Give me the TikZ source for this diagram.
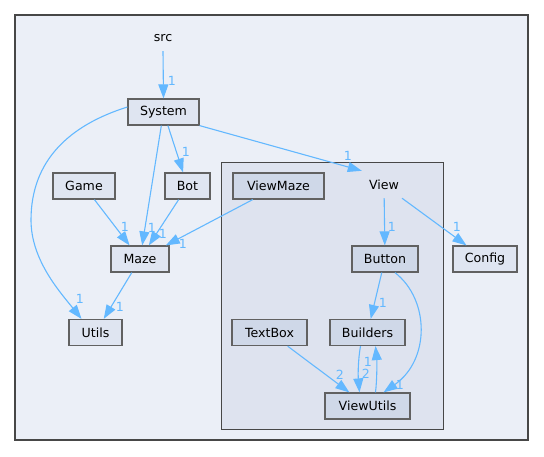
\documentclass[tikz,border=0pt]{standalone}
\usepackage{fontspec}
\setmainfont{DejaVu Sans}
\usetikzlibrary{arrows.meta,calc}
\definecolor{dirOuter}{HTML}{EBEFF7}
\definecolor{dirInner}{HTML}{DEE3EF}
\definecolor{dirNode}{HTML}{DFE5F1}
\definecolor{dirSubNode}{HTML}{CFD8E8}
\definecolor{dirEdge}{HTML}{63B8FF}
\colorlet{dirLine}{black!62}
\colorlet{dirFrame}{black!72}
\tikzset{
  dirbox/.style={
    rectangle, draw=dirLine, fill=dirNode, line width=1.2pt,
    minimum height=26pt, inner sep=0pt,
    font=\fontsize{12.6}{15}\selectfont
  },
  dirsub/.style={dirbox, fill=dirSubNode},
  dirname/.style={
    rectangle, inner sep=0pt, minimum height=26pt, minimum width=40pt,
    font=\fontsize{12.6}{15}\selectfont
  },
  dirarrow/.style={-{Triangle[length=14pt,width=10pt]}, line width=1.1pt, color=dirEdge},
  dirnum/.style={font=\fontsize{12.6}{15}\selectfont, text=dirEdge, inner sep=0pt}
}
\begin{document}
\begin{tikzpicture}[x=1pt,y=-1pt]
  \useasboundingbox (0,0) rectangle (544,456);
  % clusters
  \draw[fill=dirOuter, draw=dirFrame, line width=2.8pt] (15,15) rectangle (528,440);
  \draw[fill=dirInner, draw=dirFrame, line width=1pt] (221,162) rectangle (443,429);

  \node[dirname] (src) at (163,38) {src};
  \node[dirbox, minimum width=71pt] (System) at (163.5,112) {System};
  \node[dirbox, minimum width=62pt] (Game) at (84,186) {Game};
  \node[dirbox, minimum width=45pt] (Bot) at (187.5,186) {Bot};
  \node[dirsub, minimum width=91pt] (ViewMaze) at (278.5,186) {ViewMaze};
  \node[dirname] (View) at (384,185) {View};
  \node[dirbox, minimum width=58pt] (Maze) at (140,259) {Maze};
  \node[dirbox, minimum width=53pt] (Utils) at (95.5,332.5) {Utils};
  \node[dirsub, minimum width=75pt] (TextBox) at (269.5,332.5) {TextBox};
  \node[dirsub, minimum width=66pt] (Button) at (385,259) {Button};
  \node[dirbox, minimum width=64pt] (Config) at (485,259) {Config};
  \node[dirsub, minimum width=75pt] (Builders) at (367.5,332.5) {Builders};
  \node[dirsub, minimum width=85pt] (ViewUtils) at (367.5,406) {ViewUtils};

  \draw[dirarrow] (src.south) -- (System.north);
  \draw[dirarrow] (System) -- (Bot);
  \draw[dirarrow] (System) -- (Maze);
  \draw[dirarrow] ([yshift=5pt]System.west) .. controls (70,125) and (31,160) .. (31,220)
    .. controls (31,260) and (60,292) .. ([xshift=-14pt]Utils.north);
  \draw[dirarrow] (System.south east) -- ([xshift=-2pt,yshift=1pt]View.north west);
  \draw[dirarrow] (Game) -- (Maze);
  \draw[dirarrow] (Bot) -- (Maze);
  \draw[dirarrow] (ViewMaze) -- (Maze);
  \draw[dirarrow] (Maze) -- (Utils);
  \draw[dirarrow] (View) -- (Button);
  \draw[dirarrow] (View) -- (Config);
  \draw[dirarrow] (Button) -- (Builders);
  \draw[dirarrow] ([xshift=10pt]Button.south) .. controls (430,300) and (430,360)
    .. ([xshift=16pt]ViewUtils.north);
  \draw[dirarrow] (TextBox) -- (ViewUtils);
  \draw[dirarrow] ([xshift=-7pt]Builders.south) .. controls (358,360) and (358,375)
    .. ([xshift=-8pt]ViewUtils.north);
  \draw[dirarrow] ([xshift=8pt]ViewUtils.north) .. controls (377,380) and (377,362)
    .. ([xshift=8pt]Builders.south);

  \node[dirnum] (n1) at (172,81) {1};
  \node[dirnum] (n2) at (186,152) {1};
  \node[dirnum] (n3) at (152,228) {1};
  \node[dirnum] (n4) at (125,227) {1};
  \node[dirnum] (n5) at (163,234) {1};
  \node[dirnum] (n6) at (183,244) {1};
  \node[dirnum] (n7) at (80,299) {1};
  \node[dirnum] (n8) at (120,307) {1};
  \node[dirnum] (n9) at (348,156) {1};
  \node[dirnum] (n10) at (392,227) {1};
  \node[dirnum] (n11) at (457,227) {1};
  \node[dirnum] (n12) at (383,303) {1};
  \node[dirnum] (n13) at (400,385) {1};
  \node[dirnum] (n14) at (340,375) {2};
  \node[dirnum] (n15) at (366,374) {2};
  \node[dirnum] (n16) at (368,362) {1};
\end{tikzpicture}
\end{document}
